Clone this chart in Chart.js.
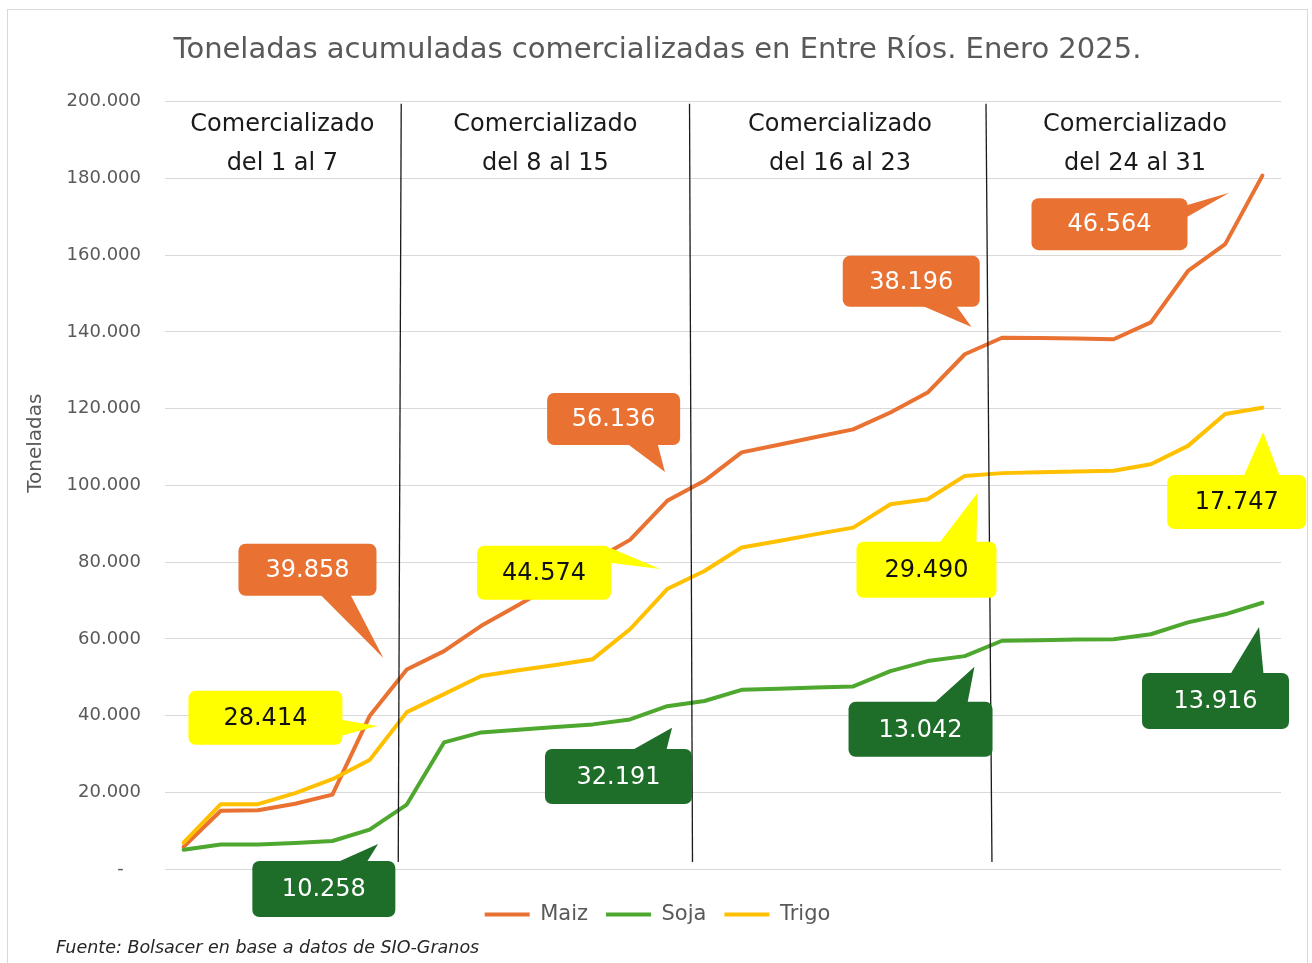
<!DOCTYPE html>
<html lang="es">
<head>
<meta charset="utf-8">
<title>Toneladas acumuladas comercializadas en Entre Ríos</title>
<script src="https://cdn.jsdelivr.net/npm/chart.js@4.4.1/dist/chart.umd.min.js"></script>
<style>
  html, body { margin: 0; padding: 0; background: #fff; }
</style>
</head>
<body>
<canvas id="grafico" width="1312" height="963"></canvas>
<script>
// Días de enero 2025 (acumulado diario)
const dias = ['2', '3', '4', '5', '6', '7', '8', '9', '10', '11', '12', '13', '14', '15', '16',
              '17', '18', '19', '20', '21', '22', '23', '24', '25', '26', '27', '28', '29', '30', '31'];

const maiz = [5800, 15200, 15300, 17000, 19400, 39858, 52000, 56800, 63400, 68800, 74400, 80300, 85800, 95994, 101200,
              108600, 110600, 112600, 114600, 119000, 124200, 134190, 138500, 138400, 138300, 138100, 142500, 155900, 162900, 180754];
const soja = [5000, 6400, 6400, 6800, 7300, 10258, 16800, 33000, 35600, 36300, 37000, 37700, 39000, 42449, 43800,
              46700, 47000, 47300, 47600, 51600, 54200, 55491, 59500, 59600, 59800, 59900, 61200, 64300, 66400, 69407];
const trigo = [6900, 16900, 16900, 19800, 23400, 28414, 40900, 45600, 50300, 51800, 53200, 54700, 62500, 72988, 77700,
               83800, 85500, 87300, 89000, 95100, 96400, 102478, 103200, 103400, 103600, 103800, 105500, 110300, 118600, 120225];

// Comercializado por semana
const semanas = ['del 1 al 7', 'del 8 al 15', 'del 16 al 23', 'del 24 al 31'];
const maizSemana = [39858, 56136, 38196, 46564];
const sojaSemana = [10258, 32191, 13042, 13916];
const trigoSemana = [28414, 44574, 29490, 17747];

const fmt = n => String(Math.round(n)).replace(/\B(?=(\d{3})+(?!\d))/g, '.');

const NARANJA = '#E97132';
const VERDE = '#4EA72E';
const AMARILLO = '#FFC000';
const GLOBO_VERDE = '#1E6E2A';
const GLOBO_AMARILLO = '#FFFF00';
const FUENTE = 'DejaVu Sans';

// Separadores entre semanas (posición en índice de categoría, arriba / abajo)
const separadores = [[5.85, 5.77], [13.60, 13.68], [21.57, 21.73]];

// Globos: centro y punta en coordenadas de datos
const globos = [
  { texto: fmt(maizSemana[0]), fondo: NARANJA, color: '#fff', x: 3.33, y: 78000, w: 138, h: 52, punta: [5.37, 55000], lado: 'b', base: [13, 43] },
  { texto: fmt(trigoSemana[0]), fondo: GLOBO_AMARILLO, color: '#111', x: 2.20, y: 39400, w: 154, h: 54, punta: [5.21, 37300], lado: 'r', base: [2, 18] },
  { texto: fmt(sojaSemana[0]), fondo: GLOBO_VERDE, color: '#fff', x: 3.77, y: -5200, w: 143, h: 56, punta: [5.23, 6500], lado: 't', base: [14, 43] },
  { texto: fmt(maizSemana[1]), fondo: NARANJA, color: '#fff', x: 11.56, y: 117300, w: 133, h: 52, punta: [12.94, 103500], lado: 'b', base: [14, 44] },
  { texto: fmt(trigoSemana[1]), fondo: GLOBO_AMARILLO, color: '#111', x: 9.69, y: 77200, w: 134, h: 54, punta: [12.81, 78200], lado: 'r', base: [-25, -10] },
  { texto: fmt(sojaSemana[1]), fondo: GLOBO_VERDE, color: '#fff', x: 11.69, y: 24100, w: 147, h: 55, punta: [13.13, 36800], lado: 't', base: [14, 48] },
  { texto: fmt(maizSemana[2]), fondo: NARANJA, color: '#fff', x: 19.56, y: 153200, w: 137, h: 51, punta: [21.18, 141300], lado: 'b', base: [11, 45] },
  { texto: fmt(maizSemana[3]), fondo: NARANJA, color: '#fff', x: 24.89, y: 168100, w: 156, h: 52, punta: [28.11, 176300], lado: 'r', base: [-19, -7] },
  { texto: fmt(trigoSemana[2]), fondo: GLOBO_AMARILLO, color: '#111', x: 19.97, y: 78000, w: 140, h: 56, punta: [21.34, 98000], lado: 't', base: [13, 50] },
  { texto: fmt(trigoSemana[3]), fondo: GLOBO_AMARILLO, color: '#111', x: 28.31, y: 95700, w: 139, h: 54, punta: [29.02, 113900], lado: 't', base: [7, 43] },
  { texto: fmt(sojaSemana[2]), fondo: GLOBO_VERDE, color: '#fff', x: 19.81, y: 36400, w: 144, h: 55, punta: [21.26, 52700], lado: 't', base: [14, 47] },
  { texto: fmt(sojaSemana[3]), fondo: GLOBO_VERDE, color: '#fff', x: 27.74, y: 43800, w: 147, h: 56, punta: [28.91, 63100], lado: 't', base: [15, 48] }
];

function dibujarGlobo(ctx, chart, g) {
  const xs = chart.scales.x, ys = chart.scales.y;
  const cx = xs.getPixelForValue(g.x), cy = ys.getPixelForValue(g.y);
  const tx = xs.getPixelForValue(g.punta[0]), ty = ys.getPixelForValue(g.punta[1]);
  const l = cx - g.w / 2, t = cy - g.h / 2;
  ctx.fillStyle = g.fondo;
  ctx.beginPath();
  ctx.roundRect(l, t, g.w, g.h, 7);
  ctx.fill();
  let p1, p2;
  if (g.lado === 'b') {
    p1 = [cx + g.base[0], t + g.h - 1]; p2 = [cx + g.base[1], t + g.h - 1];
  } else if (g.lado === 't') {
    p1 = [cx + g.base[0], t + 1]; p2 = [cx + g.base[1], t + 1];
  } else {
    p1 = [l + g.w - 1, cy + g.base[0]]; p2 = [l + g.w - 1, cy + g.base[1]];
  }
  ctx.beginPath();
  ctx.moveTo(p1[0], p1[1]);
  ctx.lineTo(tx, ty);
  ctx.lineTo(p2[0], p2[1]);
  ctx.closePath();
  ctx.fill();
  ctx.fillStyle = g.color;
  ctx.font = '24px "' + FUENTE + '"';
  ctx.textAlign = 'center';
  ctx.textBaseline = 'middle';
  ctx.fillText(g.texto, cx, cy + 1);
}

const extras = {
  id: 'extras',
  beforeDraw(chart) {
    const ctx = chart.ctx;
    ctx.save();
    ctx.fillStyle = '#fff';
    ctx.fillRect(0, 0, chart.width, chart.height);
    ctx.strokeStyle = '#d9d9d9';
    ctx.lineWidth = 1;
    ctx.strokeRect(7.5, 9.5, 1300, 1000);
    ctx.restore();
  },
  afterDraw(chart) {
    const ctx = chart.ctx;
    const xs = chart.scales.x, ys = chart.scales.y;
    const area = chart.chartArea;
    ctx.save();

    // título del eje Y
    ctx.save();
    ctx.translate(36, ys.getPixelForValue(111000));
    ctx.rotate(-Math.PI / 2);
    ctx.fillStyle = '#595959';
    ctx.font = '20px "' + FUENTE + '"';
    ctx.textAlign = 'center';
    ctx.textBaseline = 'middle';
    ctx.fillText('Toneladas', 0, 0);
    ctx.restore();

    // separadores
    const sx = [];
    ctx.strokeStyle = '#1a1a1a';
    ctx.lineWidth = 1.3;
    separadores.forEach(s => {
      const x1 = xs.getPixelForValue(s[0]), x2 = xs.getPixelForValue(s[1]);
      sx.push((x1 + x2) / 2);
      ctx.beginPath();
      ctx.moveTo(x1, ys.getPixelForValue(199500));
      ctx.lineTo(x2, ys.getPixelForValue(1800));
      ctx.stroke();
    });

    // encabezados de semana
    const bordes = [area.left].concat(sx, [area.right]);
    ctx.fillStyle = '#1a1a1a';
    ctx.font = '24px "' + FUENTE + '"';
    ctx.textAlign = 'center';
    ctx.textBaseline = 'middle';
    semanas.forEach((s, i) => {
      const cx = (bordes[i] + bordes[i + 1]) / 2;
      ctx.fillText('Comercializado', cx, area.top + 23);
      ctx.fillText(s, cx, area.top + 62);
    });

    // globos
    globos.forEach(g => dibujarGlobo(ctx, chart, g));

    // fuente
    ctx.fillStyle = '#262626';
    ctx.font = 'italic 17.5px "' + FUENTE + '"';
    ctx.textAlign = 'left';
    ctx.fillText('Fuente: Bolsacer en base a datos de SIO-Granos', 56, 948);
    ctx.restore();
  }
};

const serie = (label, data, color, order) => ({
  label: label,
  data: data,
  borderColor: color,
  backgroundColor: color,
  borderWidth: 4,
  borderCapStyle: 'round',
  borderJoinStyle: 'round',
  pointRadius: 0,
  tension: 0,
  order: order
});

new Chart(document.getElementById('grafico').getContext('2d'), {
  type: 'line',
  data: {
    labels: dias,
    datasets: [
      serie('Maiz', maiz, NARANJA, 3),
      serie('Soja', soja, VERDE, 2),
      serie('Trigo', trigo, AMARILLO, 1)
    ]
  },
  options: {
    responsive: false,
    animation: false,
    layout: { padding: { top: 10, left: 34, right: 31, bottom: 28 } },
    plugins: {
      title: {
        display: true,
        text: 'Toneladas acumuladas comercializadas en Entre Ríos. Enero 2025.',
        color: '#595959',
        font: { family: FUENTE, size: 29, weight: 'normal' },
        padding: { top: 23, bottom: 34 }
      },
      legend: {
        position: 'bottom',
        labels: {
          usePointStyle: true,
          pointStyle: 'line',
          pointStyleWidth: 45,
          boxHeight: 21,
          color: '#595959',
          font: { family: FUENTE, size: 21 },
          padding: 18,
          sort: (a, b) => a.datasetIndex - b.datasetIndex
        }
      },
      tooltip: { enabled: false }
    },
    scales: {
      x: {
        type: 'category',
        offset: true,
        grid: { display: false },
        border: { display: false },
        ticks: { display: false },
        afterFit(s) { s.height = 17; }
      },
      y: {
        min: 0,
        max: 200000,
        ticks: {
          stepSize: 20000,
          color: '#595959',
          padding: 24,
          font: { family: FUENTE, size: 18 },
          callback: v => v === 0 ? '-   ' : fmt(v)
        },
        grid: { color: '#d9d9d9', lineWidth: 1, drawTicks: false },
        border: { display: false },
        afterFit(s) { s.width = 131; }
      }
    }
  },
  plugins: [extras]
});
</script>
</body>
</html>
